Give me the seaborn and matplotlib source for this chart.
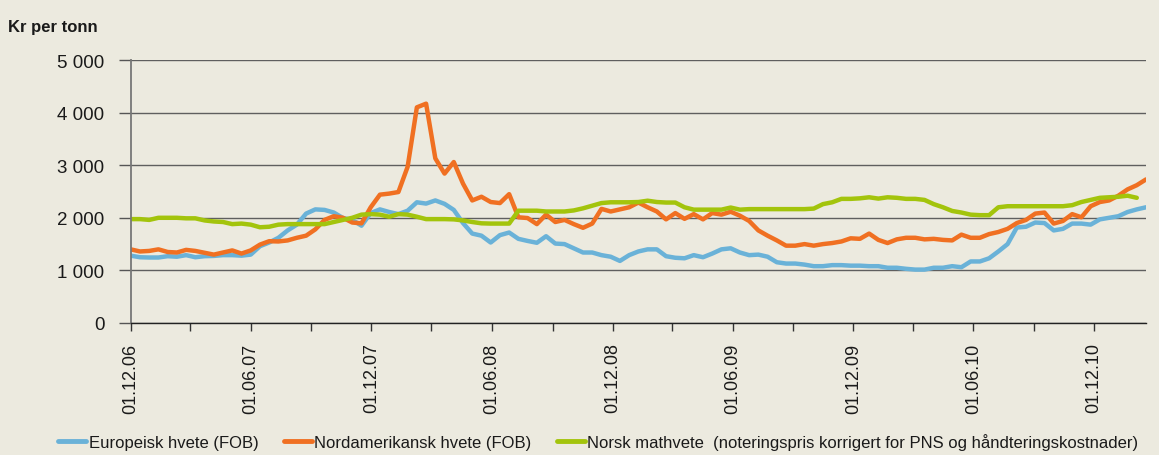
import numpy as np
import pandas as pd
import matplotlib
matplotlib.use("Agg")
import matplotlib.pyplot as plt
import matplotlib.dates as mdates
from matplotlib.ticker import FuncFormatter
from matplotlib.lines import Line2D
import seaborn as sns

start_date = "2006-12-01"
n_obs = 111

europeisk = [
    1280, 1250, 1245, 1245, 1270, 1260, 1290, 1250, 1270, 1275,
    1290, 1290, 1280, 1300, 1460, 1530, 1620, 1760, 1870, 2080,
    2160, 2150, 2100, 1995, 1960, 1850, 2090, 2160, 2110, 2070,
    2135, 2295, 2270, 2330, 2265, 2150, 1900, 1700, 1660, 1530,
    1670, 1720, 1600, 1560, 1525, 1650, 1510, 1500, 1420, 1340,
    1340, 1290, 1260, 1180, 1290, 1360, 1400, 1400, 1270, 1240,
    1230, 1290, 1250, 1320, 1400, 1420, 1340, 1290, 1300, 1260,
    1155, 1130, 1130, 1110, 1080, 1080, 1100, 1100, 1090, 1090,
    1080, 1080, 1050, 1050, 1030, 1015, 1015, 1050, 1050, 1080,
    1060, 1170, 1170, 1230, 1360, 1500, 1815, 1830, 1910, 1900,
    1760, 1790, 1890, 1890, 1870, 1970, 2000, 2030, 2110, 2160,
    2200,
]

nordamerikansk = [
    1400, 1360, 1370, 1400, 1350, 1340, 1390, 1370, 1335, 1300,
    1340, 1380, 1320, 1380, 1490, 1555, 1550, 1570, 1620, 1660,
    1780, 1960, 2030, 2000, 1910, 1895, 2200, 2440, 2460, 2490,
    2970, 4100, 4170, 3130, 2840, 3060, 2650, 2330, 2400, 2300,
    2280, 2450, 2010, 1995, 1880, 2060, 1920, 1960, 1880, 1810,
    1890, 2170, 2120, 2160, 2200, 2290, 2200, 2120, 1970, 2090,
    1980, 2070, 1970, 2090, 2060, 2115, 2040, 1940, 1760, 1660,
    1570, 1470, 1470, 1500, 1470, 1500, 1520, 1550, 1610, 1600,
    1700, 1580, 1520, 1590, 1620, 1620, 1590, 1600, 1580, 1570,
    1680, 1620, 1620, 1690, 1730, 1790, 1900, 1960, 2080, 2100,
    1890, 1940, 2070, 2010, 2220, 2300, 2330, 2420, 2540, 2620,
    2730,
]

norsk = [
    1975, 1975, 1960, 2000, 2000, 2000, 1990, 1990, 1950, 1930,
    1920, 1880, 1890, 1870, 1820, 1830, 1870, 1880, 1880, 1880,
    1880, 1880, 1920, 1960, 2000, 2060, 2070, 2060, 2020, 2070,
    2060, 2020, 1975, 1975, 1975, 1970, 1950, 1920, 1895, 1890,
    1890, 1890, 2135, 2135, 2135, 2120, 2120, 2120, 2140, 2180,
    2230, 2280, 2295, 2295, 2295, 2300, 2325, 2300, 2290, 2290,
    2200, 2155, 2155, 2155, 2155, 2195, 2155, 2165, 2165, 2165,
    2165, 2165, 2165, 2165, 2175, 2260, 2295, 2360, 2360, 2370,
    2390, 2365, 2390, 2380, 2360, 2360, 2340, 2260, 2200, 2130,
    2100, 2060, 2050, 2050, 2200, 2220, 2220, 2220, 2220, 2220,
    2220, 2220, 2240, 2300, 2340, 2380, 2390, 2400, 2420, 2380,
    np.nan,
]

serier = [
    "Europeisk hvete (FOB)",
    "Nordamerikansk hvete (FOB)",
    "Norsk mathvete  (noteringspris korrigert for PNS og håndteringskostnader)",
]
farger = ["#6AB2D8", "#F07022", "#A3C40C"]
bakgrunn = "#ECEADF"
tekst = "#1a1a1a"

datoer = pd.date_range(start_date, periods=n_obs, freq="14D")
df = pd.DataFrame({
    "dato": np.tile(datoer, 3),
    "verdi": europeisk + nordamerikansk + norsk,
    "serie": np.repeat(serier, n_obs),
})

sns.set_theme(style="white")
plt.rcParams["font.family"] = ["Liberation Sans", "DejaVu Sans"]
plt.rcParams["text.color"] = tekst

fig = plt.figure(figsize=(11.59, 4.56), dpi=100, facecolor=bakgrunn)
ax = fig.add_axes([0.1128, 0.2895, 0.9888 - 0.1128, 0.5767])
ax.set_facecolor(bakgrunn)

sns.lineplot(data=df, x="dato", y="verdi", hue="serie", palette=farger,
             linewidth=3.2, legend=False, ax=ax)

ax.set_ylim(0, 5000)
ax.set_yticks([0, 1000, 2000, 3000, 4000, 5000])
ax.yaxis.set_major_formatter(FuncFormatter(lambda v, p: f"{int(v):,}".replace(",", " ")))
ax.set_xlim(datoer[0], datoer[-1])

ax.xaxis.set_major_locator(mdates.MonthLocator(bymonth=[6, 12], bymonthday=1))
ax.xaxis.set_minor_locator(mdates.MonthLocator(bymonth=[3, 9], bymonthday=1))
ax.xaxis.set_major_formatter(mdates.DateFormatter("%d.%m.%y"))
plt.setp(ax.get_xticklabels(), rotation=90)

ax.yaxis.grid(True, color="#5f5f5f", linewidth=1.0)
ax.set_axisbelow(True)
for s in ["top", "right"]:
    ax.spines[s].set_visible(False)
ax.spines["left"].set_color("#777777")
ax.spines["left"].set_linewidth(1.3)
ax.spines["bottom"].set_color("#222222")
ax.spines["bottom"].set_linewidth(1.0)

ax.tick_params(axis="y", which="major", direction="out", length=9, width=1.0,
               color="#555555", labelsize=13.5, labelcolor=tekst, pad=10, left=True)
ax.tick_params(axis="x", which="both", direction="out", length=6, width=1.0,
               color="#333333", bottom=True)
ax.tick_params(axis="x", which="major", labelsize=13, labelcolor=tekst, pad=8)
ax.set_xlabel("")
ax.set_ylabel("")

fig.text(0.007, 0.94, "Kr per tonn", fontsize=12, fontweight="bold",
         color=tekst, ha="left", va="center")

handles = [Line2D([0], [0], color=c, linewidth=3.5) for c in farger]
fig.legend(handles, serier, loc="center left", bbox_to_anchor=(0.05, 0.03), ncol=3,
           frameon=False, fontsize=12, handlelength=1.7, handletextpad=0.15,
           columnspacing=1.5, borderaxespad=0, borderpad=0, labelcolor=tekst)

fig.savefig("out.png", dpi=100, facecolor=bakgrunn)
